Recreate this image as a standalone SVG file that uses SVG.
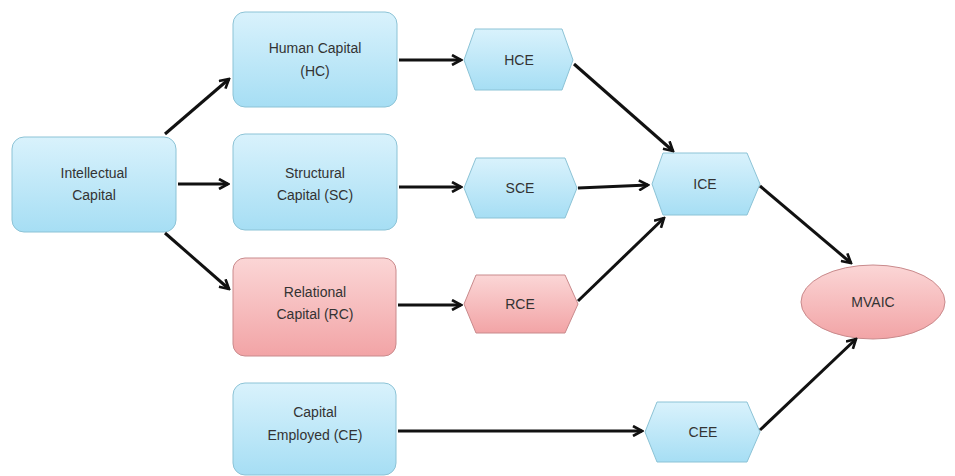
<svg xmlns="http://www.w3.org/2000/svg" width="955" height="476" viewBox="0 0 955 476">
<defs>
<linearGradient id="gb" x1="0" y1="0" x2="0" y2="1"><stop offset="0" stop-color="#d9f2fc"/><stop offset="1" stop-color="#a6def4"/></linearGradient>
<linearGradient id="gr" x1="0" y1="0" x2="0" y2="1"><stop offset="0" stop-color="#fbd6d6"/><stop offset="1" stop-color="#f2a4a6"/></linearGradient>
<marker id="ah" viewBox="0 0 12 12" refX="10" refY="6" markerWidth="12" markerHeight="12" markerUnits="userSpaceOnUse" orient="auto">
<path d="M1,1 L10,6 L1,11" fill="none" stroke="#111" stroke-width="2.6" stroke-linejoin="miter"/>
</marker>
<style>
.b{fill:url(#gb);stroke:#8cc3d6;stroke-width:1}
.r{fill:url(#gr);stroke:#c98a8c;stroke-width:1}
text{font-family:"Liberation Sans",Arial,sans-serif;font-size:14px;fill:#333;text-anchor:middle}
.c{fill:none;stroke:#111;stroke-width:3;marker-end:url(#ah)}
</style>
</defs>
<g id="ic"><rect class="b" x="12" y="137" width="164" height="95" rx="12"/><text x="94" y="178">Intellectual</text><text x="94" y="200">Capital</text></g>
<g id="hc"><rect class="b" x="233" y="12" width="164" height="95" rx="12"/><text x="315" y="53">Human Capital</text><text x="315" y="76">(HC)</text></g>
<g id="sc"><rect class="b" x="233" y="134" width="164" height="96" rx="12"/><text x="315" y="178">Structural</text><text x="315" y="200">Capital (SC)</text></g>
<g id="rc"><rect class="r" x="233" y="258" width="163" height="98" rx="12"/><text x="315" y="297">Relational</text><text x="315" y="319">Capital (RC)</text></g>
<g id="ce"><rect class="b" x="233" y="383" width="163" height="92" rx="12"/><text x="315" y="417">Capital</text><text x="315" y="440">Employed (CE)</text></g>
<g id="hce"><polygon class="b" points="464,60 475,29 562,29 573,60 562,90 475,90"/><text x="519" y="65">HCE</text></g>
<g id="sce"><polygon class="b" points="464,188 476,158 565,158 577,188 565,218 476,218"/><text x="520" y="193">SCE</text></g>
<g id="rce"><polygon class="r" points="464,304 476,275 565,275 578,304 565,333 476,333"/><text x="520" y="309">RCE</text></g>
<g id="ice"><polygon class="b" points="652,184 663,153 747,153 760,184 747,215 663,215"/><text x="705" y="189">ICE</text></g>
<g id="cee"><polygon class="b" points="645,432 657,402 747,402 760,432 747,462 657,462"/><text x="703" y="437">CEE</text></g>
<g id="mvaic"><ellipse class="r" cx="873" cy="302" rx="72" ry="37"/><text x="873" y="307">MVAIC</text></g>
<g id="connectors">
<line class="c" x1="165" y1="134" x2="229" y2="79"/>
<line class="c" x1="178" y1="184" x2="228" y2="184"/>
<line class="c" x1="165" y1="233" x2="229" y2="289"/>
<line class="c" x1="399" y1="60" x2="461" y2="60"/>
<line class="c" x1="399" y1="187" x2="461" y2="187"/>
<line class="c" x1="398" y1="305" x2="461" y2="305"/>
<line class="c" x1="574" y1="64" x2="673" y2="151"/>
<line class="c" x1="578" y1="188" x2="648" y2="185"/>
<line class="c" x1="578" y1="301" x2="664" y2="218"/>
<line class="c" x1="760" y1="186" x2="851" y2="263"/>
<line class="c" x1="398" y1="431" x2="642" y2="431"/>
<line class="c" x1="760" y1="430" x2="856" y2="339"/>
</g>
</svg>
